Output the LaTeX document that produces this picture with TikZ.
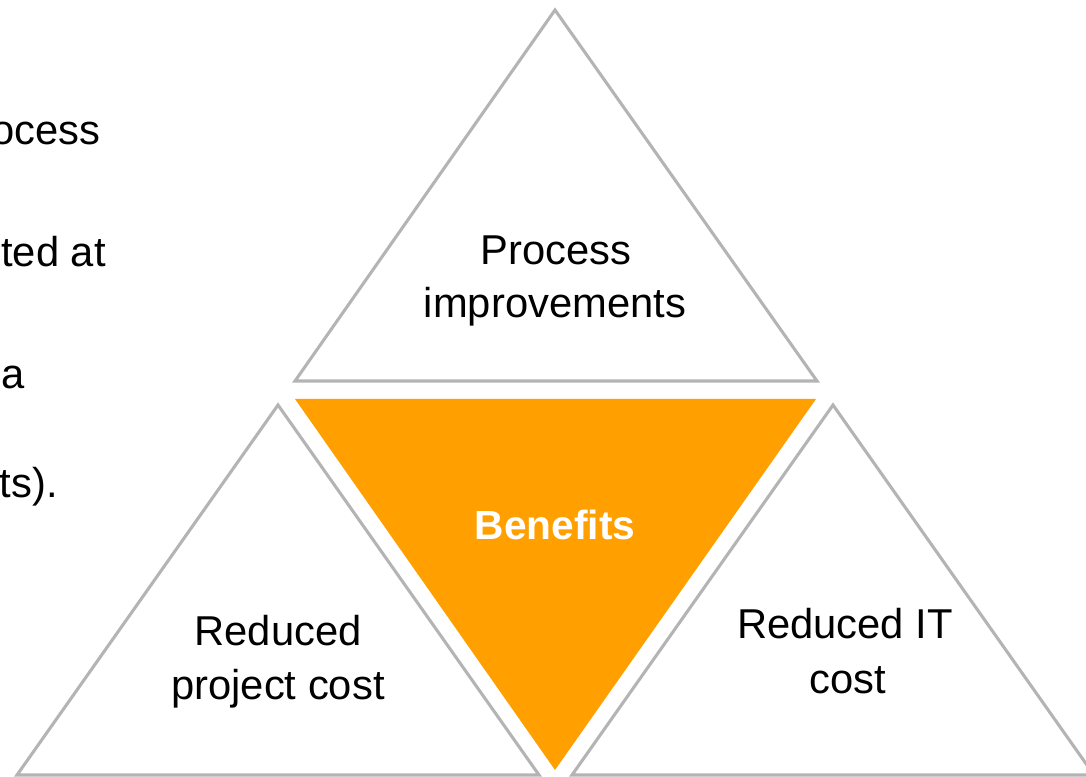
\documentclass[tikz,border=0pt]{standalone}
\usepackage{fontspec}
\setmainfont{Liberation Sans}
\definecolor{edgegray}{RGB}{180,180,180}
\definecolor{benorange}{RGB}{255,160,0}
\begin{document}
\begin{tikzpicture}[x=0.75pt,y=-0.75pt,
  tri/.style={draw=edgegray,line width=2.3pt,line join=miter,fill=white},
  lbl/.style={anchor=base,inner sep=0pt,font=\fontsize{31.3pt}{40pt}\selectfont},
  side/.style={anchor=base east,inner sep=0pt,font=\fontsize{31.3pt}{40pt}\selectfont}]
\useasboundingbox (0,0) rectangle (1086,777);
% triangles
\draw[tri] (295,381) -- (555,10) -- (817,381) -- cycle;
\fill[benorange] (295,399) -- (816,399) -- (555,770) -- cycle;
\draw[tri] (17,775) -- (278,405) -- (539,775) -- cycle;
\draw[tri] (572,775) -- (833,405) -- (1094,775) -- cycle;
% labels
\node[lbl] (proc1) at (556,265) {Process};
\node[lbl] (proc2) at (555,318) {improvements};
\node[lbl,text=white,font=\fontsize{30.5pt}{40pt}\selectfont\bfseries] (ben) at (555,539) {Benefits};
\node[lbl] (rp1) at (278,645) {Reduced};
\node[lbl] (rp2) at (278,699) {project cost};
\node[lbl] (rit1) at (845,638) {Reduced IT};
\node[lbl] (rit2) at (848,693) {cost};
% clipped side text
\node[side] (s1) at (101,145) {ocess};
\node[side] (s2) at (106,267) {ted at};
\node[side] (s3) at (25,388) {a};
\node[side] (s4) at (58,497) {cts).};
\end{tikzpicture}
\end{document}
